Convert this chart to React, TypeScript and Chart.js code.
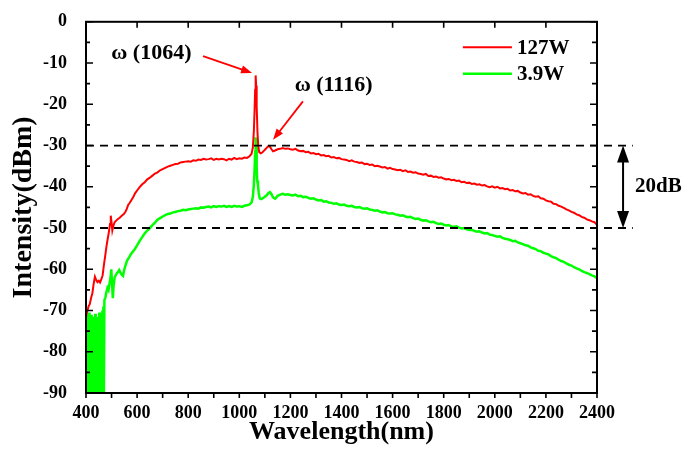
import { useEffect, useRef } from 'react';
import { Chart, registerables } from 'chart.js';

Chart.register(...registerables);

const seriesLabels = ['127W', '3.9W'];
const seriesColors = ['#ff0000', '#00ff00'];

const redWavelength = [
  400, 405, 410, 415, 420, 425, 430, 435, 440, 445, 450, 455, 460, 465, 470, 475, 480, 485, 490, 494, 497, 500, 503, 507, 512, 518, 525, 532, 540, 548, 555, 560, 565, 570, 578, 585, 592,
  600, 610, 620, 630, 640, 650, 660, 670, 680, 690, 700, 710, 720, 730, 740, 750, 760, 770, 780, 790, 800, 810, 820, 830, 840, 850, 860, 870, 880, 890, 900, 910, 920, 930, 940, 950, 960, 970, 980, 990, 1000, 1010, 1020, 1030, 1040,
  1048, 1053, 1057, 1060, 1062, 1064, 1066, 1068, 1071, 1074, 1078, 1084, 1090, 1096, 1102, 1108, 1114, 1120, 1126, 1132, 1140, 1150, 1160, 1170, 1180, 1190,
  1200, 1210, 1220, 1230, 1240, 1250, 1260, 1270, 1280, 1290, 1300, 1310, 1320, 1330, 1340, 1350, 1360, 1370, 1380, 1390, 1400, 1410, 1420, 1430, 1440, 1450, 1460, 1470, 1480, 1490,
  1500, 1510, 1520, 1530, 1540, 1550, 1560, 1570, 1580, 1590, 1600, 1610, 1620, 1630, 1640, 1650, 1660, 1670, 1680, 1690, 1700, 1710, 1720, 1730, 1740, 1750, 1760, 1770, 1780, 1790,
  1800, 1810, 1820, 1830, 1840, 1850, 1860, 1870, 1880, 1890, 1900, 1910, 1920, 1930, 1940, 1950, 1960, 1970, 1980, 1990, 2000, 2010, 2020, 2030, 2040, 2050, 2060, 2070, 2080, 2090,
  2100, 2110, 2120, 2130, 2140, 2150, 2160, 2170, 2180, 2190, 2200, 2210, 2220, 2230, 2240, 2250, 2260, 2270, 2280, 2290, 2300, 2310, 2320, 2330, 2340, 2350, 2360, 2370, 2380, 2390, 2400,
];
const redIntensity = [
  -71.5, -70.2, -69.0, -68.4, -66.9, -65.8, -63.5, -61.8, -62.6, -63.1, -62.8, -63.2, -62.4, -61.5, -59.0, -56.8, -54.5, -52.6, -50.8, -49.0, -47.0, -48.6, -50.6, -49.5, -48.6, -48.2, -47.8, -47.5, -47.0, -46.6, -46.0, -45.3, -44.4, -44.0, -43.2, -42.5, -41.6,
  -40.9, -40.1, -39.4, -38.9, -38.2, -37.8, -37.3, -36.8, -36.5, -36.0, -35.7, -35.4, -35.1, -34.9, -34.7, -34.5, -34.4, -34.1, -34.0, -33.9, -33.8, -33.9, -33.6, -33.7, -33.4, -33.5, -33.2, -33.4, -33.3, -33.1, -33.5, -33.2, -33.4, -33.2, -33.3, -33.6, -33.2, -33.4, -33.0, -33.3, -33.1, -33.2, -32.9, -33.0, -32.6,
  -32.0, -30.5, -26.5, -21.0, -16.5, -13.0, -15.5, -20.5, -26.5, -30.0, -31.6, -31.9, -31.7, -31.3, -30.9, -30.5, -30.1, -30.3, -30.9, -31.4, -31.2, -30.9, -30.8, -30.6, -30.8, -30.7,
  -30.9, -31.0, -30.8, -31.2, -31.4, -31.3, -31.6, -31.5, -31.9, -31.8, -32.1, -32.0, -32.4, -32.3, -32.6, -32.5, -32.9, -32.8, -33.1, -33.0, -33.3, -33.4, -33.5, -33.8, -33.6, -33.9, -34.0, -34.2, -34.1, -34.5,
  -34.4, -34.7, -34.6, -35.0, -34.9, -35.1, -35.3, -35.2, -35.6, -35.4, -35.7, -35.8, -36.0, -35.9, -36.2, -36.0, -36.4, -36.3, -36.6, -36.5, -36.8, -36.9, -37.1, -36.9, -37.4, -37.3, -37.6, -37.5, -37.8, -37.7,
  -38.0, -38.2, -38.1, -38.4, -38.3, -38.6, -38.5, -38.9, -38.8, -39.1, -39.0, -39.3, -39.2, -39.5, -39.4, -39.7, -39.6, -39.9, -40.1, -39.9, -40.2, -40.0, -40.4, -40.3, -40.6, -40.5, -40.9, -40.8, -41.1, -41.0,
  -41.4, -41.6, -41.5, -41.9, -41.8, -42.2, -42.4, -42.3, -42.8, -42.9, -43.3, -43.5, -43.6, -44.1, -44.2, -44.6, -44.8, -45.1, -45.5, -45.7, -46.1, -46.3, -46.7, -46.9, -47.3, -47.5, -47.9, -48.1, -48.4, -48.6, -49.2,
];

const greenWavelength = [
  400, 402, 404, 406, 408, 410, 412, 414, 416, 418, 420, 422, 424, 426, 428, 430, 432, 434, 436, 438, 440, 442, 444, 446, 448, 450, 452, 454, 456, 458, 460, 462, 464, 466, 468, 470, 472,
  476, 480, 484, 488, 492, 496, 499, 502, 505, 508, 512, 516, 520, 525, 530, 535, 540, 545, 550, 555, 560, 565, 570, 575, 580, 590,
  600, 610, 620, 630, 640, 650, 660, 670, 680, 690, 700, 710, 720, 730, 740, 750, 760, 770, 780, 790, 800, 810, 820, 830, 840, 850, 860, 870, 880, 890, 900, 910, 920, 930, 940, 950, 960, 970, 980, 990, 1000, 1010, 1020, 1030, 1040,
  1048, 1053, 1057, 1060, 1062, 1064, 1066, 1068, 1070, 1073, 1076, 1080, 1086, 1092, 1100, 1108, 1114, 1120, 1126, 1132, 1140, 1150, 1160, 1170, 1180, 1190,
  1200, 1210, 1220, 1230, 1240, 1250, 1260, 1270, 1280, 1290, 1300, 1310, 1320, 1330, 1340, 1350, 1360, 1370, 1380, 1390, 1400, 1410, 1420, 1430, 1440, 1450, 1460, 1470, 1480, 1490,
  1500, 1510, 1520, 1530, 1540, 1550, 1560, 1570, 1580, 1590, 1600, 1610, 1620, 1630, 1640, 1650, 1660, 1670, 1680, 1690, 1700, 1710, 1720, 1730, 1740, 1750, 1760, 1770, 1780, 1790,
  1800, 1810, 1820, 1830, 1840, 1850, 1860, 1870, 1880, 1890, 1900, 1910, 1920, 1930, 1940, 1950, 1960, 1970, 1980, 1990, 2000, 2010, 2020, 2030, 2040, 2050, 2060, 2070, 2080, 2090,
  2100, 2110, 2120, 2130, 2140, 2150, 2160, 2170, 2180, 2190, 2200, 2210, 2220, 2230, 2240, 2250, 2260, 2270, 2280, 2290, 2300, 2310, 2320, 2330, 2340, 2350, 2360, 2370, 2380, 2390, 2400,
];
const greenIntensity = [
  -72, -90, -71, -90, -73, -89, -70.5, -90, -72.5, -90, -71, -89.5, -74, -90, -71.5, -90, -73, -90, -70.8, -90, -72, -89, -74.5, -90, -71.5, -90, -70.5, -90, -73, -89.5, -72, -90, -70, -90, -69, -90, -67.5,
  -66.8, -65.5, -64.5, -65.0, -63.5, -62.0, -60.0, -63.5, -67.0, -64.0, -62.0, -61.5, -61.0, -60.7, -60.2, -60.8, -61.3, -61.6, -60.0, -59.0, -58.0, -57.5, -57.0, -56.4, -56.0, -55.2,
  -54.2, -53.1, -52.2, -51.3, -50.6, -50.0, -49.3, -48.7, -48.0, -47.6, -47.2, -46.9, -46.6, -46.5, -46.2, -46.1, -45.9, -45.8, -45.6, -45.7, -45.5, -45.4, -45.3, -45.2, -45.3, -45.0, -45.1, -44.9, -44.8, -45.0, -44.7, -44.9, -44.7, -44.8, -44.6, -44.9, -44.7, -44.9, -44.6, -44.8, -44.7, -44.9, -44.6, -44.5, -44.3,
  -43.8, -42.5, -39.5, -35.5, -31.5, -28.0, -30.5, -35.0, -38.5, -39.5, -41.5, -42.8, -43.0, -42.8, -42.4, -42.0, -41.5, -41.3, -41.8, -42.6, -42.9, -42.2, -41.9, -41.7, -41.9, -41.8,
  -42.0, -42.1, -41.9, -42.3, -42.2, -42.5, -42.4, -42.7, -42.9, -42.8, -43.1, -43.3, -43.2, -43.6, -43.5, -43.8, -43.9, -44.1, -44.0, -44.3, -44.4, -44.3, -44.6, -44.7, -44.6, -44.9, -45.0, -44.9, -45.2, -45.3,
  -45.2, -45.5, -45.6, -45.8, -45.7, -46.0, -46.2, -46.1, -46.4, -46.5, -46.4, -46.7, -46.8, -47.0, -46.9, -47.2, -47.4, -47.3, -47.6, -47.8, -47.7, -48.0, -48.2, -48.1, -48.4, -48.6, -48.5, -48.8, -49.0, -48.9,
  -49.2, -49.4, -49.3, -49.6, -49.7, -49.6, -49.9, -50.1, -50.0, -50.3, -50.5, -50.4, -50.7, -50.9, -50.8, -51.1, -51.3, -51.2, -51.6, -51.7, -51.9, -52.1, -52.0, -52.4, -52.6, -52.7, -52.9, -53.2, -53.1, -53.5,
  -53.7, -53.9, -54.2, -54.3, -54.7, -54.9, -55.1, -55.5, -55.6, -56.0, -56.2, -56.4, -56.8, -57.1, -57.3, -57.7, -58.0, -58.2, -58.6, -58.9, -59.1, -59.5, -59.8, -60.0, -60.4, -60.7, -60.9, -61.2, -61.5, -61.7, -62.2,
];

// axis ranges / ticks
const xRange = [400, 2400];
const yRange = [-90, 0];
const xMajorStep = 200;
const xMinorStep = 100;
const yMajorStep = 10;
const yMinorStep = 5;

// reference levels and annotations (data coordinates)
const refLevels = [-30, -50];
const refLineEnd = 2540;
const spanArrowX = 2502;
const spanLabel = { text: '20dB', x: 2640, y: -40 };
const peakLabels = [
  { text: 'ω (1064)', x: 656, y: -7.6, from: [858, -8.3], to: [1050, -12.4] },
  { text: 'ω (1116)', x: 1369, y: -15.5, from: [1249, -19.3], to: [1132, -28.6] },
];
const legendRows = [
  { y: -6.2, x0: 1875, x1: 2067, tx: 2087 },
  { y: -12.6, x0: 1875, x1: 2067, tx: 2087 },
];

const FONT = "'Liberation Serif', 'Times New Roman', serif";

function arrowHead(ctx: CanvasRenderingContext2D, x0: number, y0: number, x1: number, y1: number, len: number, half: number) {
  const a = Math.atan2(y1 - y0, x1 - x0);
  ctx.beginPath();
  ctx.moveTo(x1, y1);
  ctx.lineTo(x1 - len * Math.cos(a) + half * Math.sin(a), y1 - len * Math.sin(a) - half * Math.cos(a));
  ctx.lineTo(x1 - len * Math.cos(a) - half * Math.sin(a), y1 - len * Math.sin(a) + half * Math.cos(a));
  ctx.closePath();
  ctx.fill();
}

const overlay = {
  id: 'overlay',
  afterDatasetsDraw(chart: any) {
    const { ctx, chartArea: a, scales } = chart;
    const px = (v: number) => scales.x.getPixelForValue(v);
    const py = (v: number) => scales.y.getPixelForValue(v);
    ctx.save();

    // dashed reference lines
    ctx.strokeStyle = '#000';
    ctx.lineWidth = 1.8;
    ctx.setLineDash([8, 6]);
    for (const v of refLevels) {
      ctx.beginPath();
      ctx.moveTo(a.left, py(v));
      ctx.lineTo(px(refLineEnd), py(v));
      ctx.stroke();
    }
    ctx.setLineDash([]);

    // frame
    ctx.lineWidth = 2;
    ctx.strokeRect(a.left, a.top, a.right - a.left, a.bottom - a.top);

    // ticks
    ctx.lineWidth = 1.6;
    ctx.beginPath();
    for (let v = yRange[0]; v <= yRange[1]; v += yMinorStep) {
      const y = py(v);
      const major = v % yMajorStep === 0;
      ctx.moveTo(a.left, y);
      ctx.lineTo(a.left + (major ? 7 : 4), y);
      ctx.moveTo(a.right, y);
      ctx.lineTo(a.right - (major ? 7 : 5), y);
    }
    for (let v = xRange[0]; v <= xRange[1]; v += xMinorStep) {
      const x = px(v);
      ctx.moveTo(x, a.bottom);
      ctx.lineTo(x, a.bottom + 5);
      if ((v - xRange[0]) % xMajorStep === 0) {
        ctx.moveTo(x, a.top);
        ctx.lineTo(x, a.top + 6);
      }
    }
    ctx.stroke();

    // 20dB double arrow
    const ax = px(spanArrowX);
    const yT = py(refLevels[0]);
    const yB = py(refLevels[1]);
    ctx.fillStyle = '#000';
    ctx.lineWidth = 2;
    ctx.beginPath();
    ctx.moveTo(ax, yT + 10);
    ctx.lineTo(ax, yB - 10);
    ctx.stroke();
    arrowHead(ctx, ax, yB, ax, yT, 17, 6);
    arrowHead(ctx, ax, yT, ax, yB, 17, 6);
    ctx.font = `bold 21px ${FONT}`;
    ctx.textAlign = 'center';
    ctx.textBaseline = 'middle';
    ctx.fillText(spanLabel.text, px(spanLabel.x), py(spanLabel.y));

    // peak annotations
    ctx.font = `bold 22px ${FONT}`;
    for (const p of peakLabels) {
      ctx.fillStyle = '#000';
      ctx.fillText(p.text, px(p.x), py(p.y));
      const x0 = px(p.from[0]), y0 = py(p.from[1]);
      const x1 = px(p.to[0]), y1 = py(p.to[1]);
      const ang = Math.atan2(y1 - y0, x1 - x0);
      ctx.strokeStyle = '#ff0000';
      ctx.fillStyle = '#ff0000';
      ctx.lineWidth = 1.8;
      ctx.beginPath();
      ctx.moveTo(x0, y0);
      ctx.lineTo(x1 - 8 * Math.cos(ang), y1 - 8 * Math.sin(ang));
      ctx.stroke();
      arrowHead(ctx, x0, y0, x1, y1, 11, 4);
    }

    // legend
    ctx.textAlign = 'left';
    legendRows.forEach((r, i) => {
      ctx.strokeStyle = seriesColors[i];
      ctx.lineWidth = i === 0 ? 2 : 2.5;
      ctx.beginPath();
      ctx.moveTo(px(r.x0), py(r.y));
      ctx.lineTo(px(r.x1), py(r.y));
      ctx.stroke();
      ctx.fillStyle = '#000';
      ctx.font = `bold 21px ${FONT}`;
      ctx.fillText(seriesLabels[i], px(r.tx), py(r.y) + 1);
    });

    ctx.restore();
  },
};

export default function App() {
  const ref = useRef<HTMLCanvasElement | null>(null);
  useEffect(() => {
    if (!ref.current) return;
    const chart = new Chart(ref.current, {
      type: 'line',
      data: {
        datasets: [
          {
            label: seriesLabels[0],
            data: redWavelength.map((x, i) => ({ x, y: redIntensity[i] })),
            borderColor: seriesColors[0],
            borderWidth: 2,
            pointRadius: 0,
            tension: 0,
          },
          {
            label: seriesLabels[1],
            data: greenWavelength.map((x, i) => ({ x, y: greenIntensity[i] })),
            borderColor: seriesColors[1],
            borderWidth: 2.5,
            pointRadius: 0,
            tension: 0,
          },
        ],
      },
      options: {
        animation: false,
        responsive: true,
        maintainAspectRatio: false,
        layout: { padding: { top: 15, right: 102, left: 0, bottom: 0 } },
        plugins: { legend: { display: false }, tooltip: { enabled: false } },
        scales: {
          x: {
            type: 'linear',
            min: xRange[0],
            max: xRange[1],
            grid: { display: false },
            border: { display: false },
            ticks: {
              stepSize: xMajorStep,
              autoSkip: false,
              maxRotation: 0,
              padding: 2,
              color: '#000',
              font: { family: FONT, size: 18, weight: 'bold' },
              callback: (v: any) => String(v),
            },
            title: {
              display: true,
              text: 'Wavelength(nm)',
              color: '#000',
              font: { family: FONT, size: 26, weight: 'bold' },
              padding: { top: 0, bottom: 14 },
            },
            afterFit: (s: any) => { s.height = 69; },
          },
          y: {
            type: 'linear',
            min: yRange[0],
            max: yRange[1],
            grid: { display: false },
            border: { display: false },
            ticks: {
              stepSize: yMajorStep,
              padding: 11,
              color: '#000',
              font: { family: FONT, size: 18, weight: 'bold' },
              callback: (v: any) => String(v),
            },
            title: {
              display: true,
              text: 'Intensity(dBm)',
              color: '#000',
              font: { family: FONT, size: 28, weight: 'bold' },
              padding: { top: 7, bottom: 0 },
            },
            afterFit: (s: any) => { s.width = 86; },
          },
        },
      },
      plugins: [overlay],
    });
    return () => chart.destroy();
  }, []);
  return (
    <div style={{ position: 'absolute', left: 0, top: 0, width: 699, height: 462 }}>
      <canvas ref={ref} />
    </div>
  );
}
